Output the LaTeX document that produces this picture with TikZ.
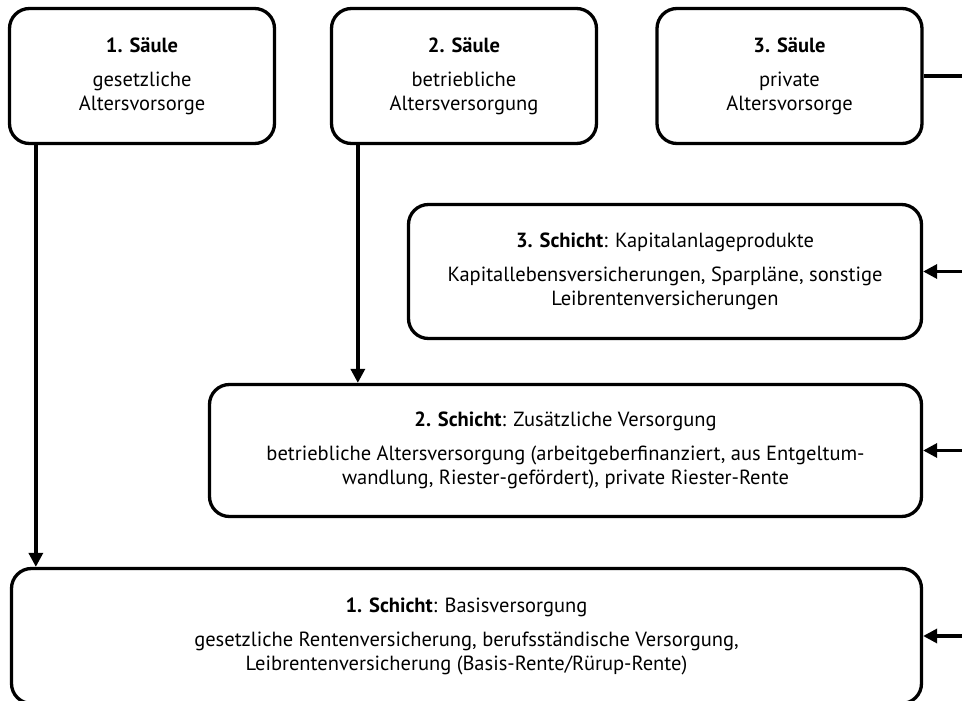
\documentclass[tikz,border=0pt]{standalone}
\usepackage{fontspec}
\setmainfont{PT Sans}
\usepackage{tikz}
\usetikzlibrary{arrows.meta}

\begin{document}
\begin{tikzpicture}[
  x=1pt, y=-1pt,
  box/.style={draw, line width=3.3pt, rounded corners=20pt, align=center,
    font=\fontsize{20.5}{24}\selectfont, inner sep=0pt},
  saeule/.style={box, minimum width=265pt, minimum height=135pt},
  arr/.style={line width=3.3pt, -{Triangle[length=14pt,width=14pt]}}
]
\useasboundingbox (0,0) rectangle (962,701);
\coordinate (rim) at (980,0);
% Saeulen
\node[saeule] (s1) at (142,76) {\textbf{1. Säule}\\[10pt]gesetzliche\\Altersvorsorge};
\node[saeule] (s2) at (464,76) {\textbf{2. Säule}\\[10pt]betriebliche\\Altersversorgung};
\node[saeule] (s3) at (789.5,76) {\textbf{3. Säule}\\[10pt]private\\Altersvorsorge};
% Schichten
\node[box, minimum width=513pt, minimum height=134pt] (k3) at (665,271.5)
  {\textbf{3. Schicht}: Kapitalanlageprodukte\\[10pt]Kapitallebensversicherungen, Sparpläne, sonstige\\Leibrentenversicherungen};
\node[box, minimum width=712pt, minimum height=132pt] (k2) at (565.5,450.5)
  {\textbf{2. Schicht}: Zusätzliche Versorgung\\[10pt]betriebliche Altersversorgung (arbeitgeberfinanziert, aus Entgeltum-\\wandlung, Riester-gefördert), private Riester-Rente};
\node[box, minimum width=910pt, minimum height=135pt] (k1) at (466.5,636)
  {\textbf{1. Schicht}: Basisversorgung\\[10pt]gesetzliche Rentenversicherung, berufsständische Versorgung,\\Leibrentenversicherung (Basis-Rente/Rürup-Rente)};

\draw[arr] ([xshift=28pt]s1.south west) -- ([xshift=28pt]s1.south west |- k1.north);
\draw[arr] ([xshift=28pt]s2.south west) -- ([xshift=28pt]s2.south west |- k2.north);
\draw[line width=3.3pt] (s3.east) -- (rim |- s3.east);
\draw[arr] (rim |- k3.east) -- (k3.east);
\draw[arr] (rim |- k2.east) -- (k2.east);
\draw[arr] (rim |- k1.east) -- (k1.east);
\end{tikzpicture}
\end{document}
